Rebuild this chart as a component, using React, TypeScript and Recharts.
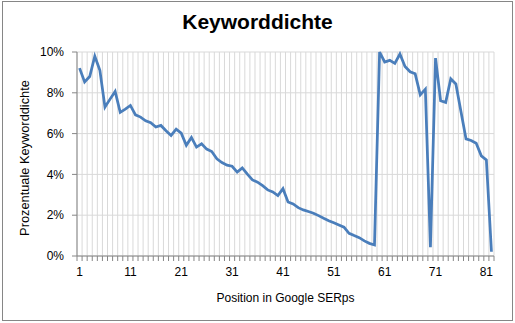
import { CartesianGrid, Label, Line, LineChart, XAxis, YAxis } from "recharts";

// Keyword density (%) per Google SERP position 1..82
const positions = Array.from({ length: 82 }, (_, i) => i + 1);
const density = [
  9.21, 8.53, 8.8, 9.79, 9.1, 7.3, 7.69, 8.07, 7.04, 7.2,
  7.38, 6.92, 6.81, 6.63, 6.53, 6.32, 6.4, 6.14, 5.91, 6.22,
  6.02, 5.43, 5.81, 5.34, 5.5, 5.24, 5.12, 4.76, 4.58, 4.45,
  4.4, 4.11, 4.32, 4.01, 3.73, 3.62, 3.45, 3.24, 3.14, 2.96,
  3.3, 2.65, 2.55, 2.37, 2.26, 2.18, 2.1, 1.98, 1.85, 1.73,
  1.63, 1.52, 1.41, 1.11, 1.0, 0.9, 0.74, 0.62, 0.54, 10.0,
  9.51, 9.59, 9.44, 9.9, 9.29, 9.03, 8.93, 7.9, 8.18, 0.43,
  9.7, 7.61, 7.53, 8.69, 8.43, 7.08, 5.74, 5.66, 5.53, 4.91,
  4.71, 0.21,
];
const xLabels = [1, 11, 21, 31, 41, 51, 61, 71, 81];
const yTicks = [0, 2, 4, 6, 8, 10];

// category boundaries for gridlines / tick marks
const boundaries = Array.from({ length: positions.length + 1 }, (_, i) => i + 0.5);

const data = positions.map((pos, i) => ({ pos, value: density[i] }));

const FONT = "Arial, 'Liberation Sans', sans-serif";
const AXIS = "#868686";
const GRID = "#d9d9d9";

export default function App() {
  return (
    <div style={{ position: "absolute", left: 0, top: 0, width: 515, height: 323, background: "#fff", fontFamily: FONT }}>
      <div
        style={{
          position: "absolute",
          left: 2,
          top: 1,
          width: 511,
          height: 320,
          boxSizing: "border-box",
          border: `1px solid ${AXIS}`,
        }}
      />
      <div
        style={{
          position: "absolute",
          left: 0,
          top: 9,
          width: 515,
          textAlign: "center",
          fontSize: 21,
          fontWeight: "bold",
          lineHeight: "26px",
          color: "#000",
        }}
      >
        Keyworddichte
      </div>
      <LineChart
        width={515}
        height={323}
        data={data}
        margin={{ top: 52, right: 21, bottom: 17, left: 0 }}
        style={{ position: "absolute", left: 0, top: 0 }}
      >
        <CartesianGrid xAxisId="grid" stroke={GRID} strokeWidth={1} />
        <XAxis
          xAxisId="grid"
          dataKey="pos"
          type="number"
          domain={[0.5, positions.length + 0.5]}
          ticks={boundaries}
          interval={0}
          height={5}
          tickSize={5}
          tickFormatter={() => ""}
          stroke={AXIS}
          axisLine={{ stroke: AXIS }}
          tickLine={{ stroke: AXIS }}
        />
        <XAxis
          xAxisId="main"
          dataKey="pos"
          type="number"
          domain={[0.5, positions.length + 0.5]}
          ticks={xLabels}
          interval={0}
          height={45}
          tickSize={0}
          tickMargin={6}
          axisLine={false}
          tickLine={false}
          tick={{ fontSize: 12, fill: "#000", fontFamily: FONT }}
        >
          <Label
            value="Position in Google SERps"
            position="insideBottom"
            offset={4.5}
            style={{ fontSize: 12, fill: "#000", fontFamily: FONT }}
          />
        </XAxis>
        <YAxis
          domain={[0, 10]}
          ticks={yTicks}
          interval={0}
          width={77}
          tickSize={5}
          tickMargin={8}
          tickFormatter={(v: number) => `${v}%`}
          tick={{ fontSize: 12, fill: "#000", fontFamily: FONT }}
          axisLine={{ stroke: AXIS }}
          tickLine={{ stroke: AXIS }}
        >
          <Label
            content={({ viewBox }: any) => {
              const cx = (viewBox?.x ?? 0) + 24;
              const cy = (viewBox?.y ?? 0) + (viewBox?.height ?? 0) / 2 + 4;
              return (
                <text
                  x={cx}
                  y={cy}
                  transform={`rotate(-90, ${cx}, ${cy})`}
                  textAnchor="middle"
                  dominantBaseline="central"
                  style={{ fontSize: 12.8, fill: "#000", fontFamily: FONT }}
                >
                  Prozentuale Keyworddichte
                </text>
              );
            }}
          />
        </YAxis>
        <Line
          xAxisId="main"
          type="linear"
          dataKey="value"
          stroke="#4a7ebb"
          strokeWidth={2.75}
          dot={false}
          isAnimationActive={false}
        />
      </LineChart>
    </div>
  );
}
